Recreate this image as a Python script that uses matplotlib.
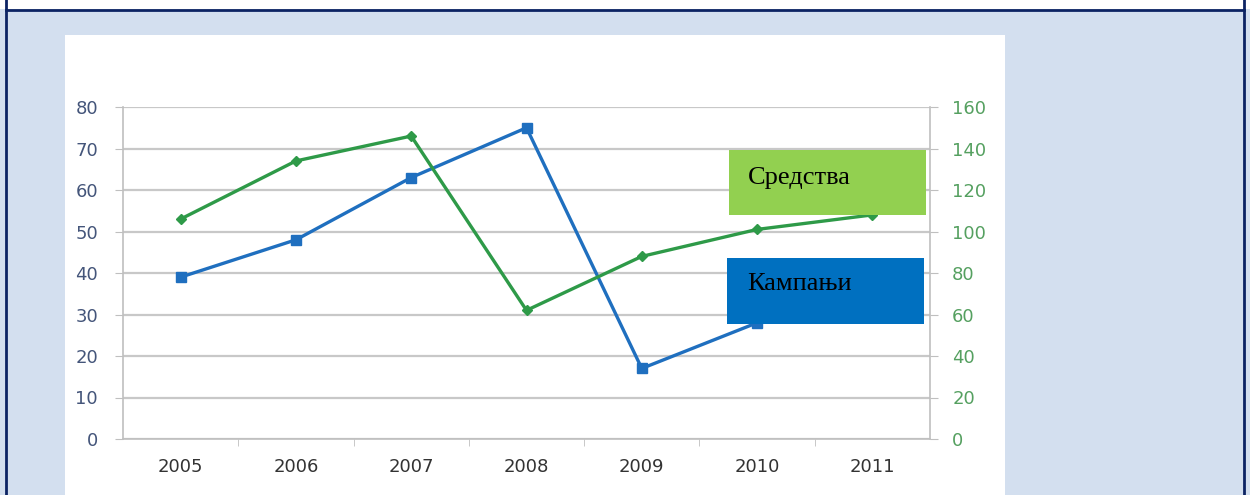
import matplotlib.pyplot as plt
from matplotlib.patches import Rectangle
from matplotlib.lines import Line2D

years = ['2005', '2006', '2007', '2008', '2009', '2010', '2011']
kampanji = [39, 48, 63, 75, 17, 28, 30]          # left axis
sredstva = [106, 134, 146, 62, 88, 101, 108]     # right axis

W, H = 1250, 495
fig = plt.figure(figsize=(W / 100, H / 100), dpi=100)
fig.patch.set_facecolor('#d3dfef')

def fx(px):
    return px / W

def fy(py):
    return 1 - py / H

# white strip and frame
fig.add_artist(Rectangle((0, fy(9)), 1, 9 / H, transform=fig.transFigure,
                         facecolor='white', edgecolor='none', zorder=0))
navy = '#0c2363'
fig.add_artist(Line2D([fx(6), fx(1244)], [fy(10), fy(10)], transform=fig.transFigure,
                      color=navy, lw=2))
fig.add_artist(Line2D([fx(6), fx(6)], [0, 1], transform=fig.transFigure, color=navy, lw=2))
fig.add_artist(Line2D([fx(1244), fx(1244)], [0, 1], transform=fig.transFigure, color=navy, lw=2))

# white chart panel
fig.add_artist(Rectangle((fx(65), 0), fx(1005 - 65), fy(35), transform=fig.transFigure,
                         facecolor='white', edgecolor='none', zorder=0))

ax = fig.add_axes([fx(123), fy(439), fx(930 - 123), (439 - 107) / H])
ax.set_facecolor('none')
ax2 = ax.twinx()

x = list(range(len(years)))
ax.plot(x, kampanji, color='#1f6fbf', lw=2.4, marker='s', ms=7.5, zorder=3)
ax2.plot(x, sredstva, color='#2e9a48', lw=2.4, marker='D', ms=5.5, zorder=3)

ax.set_xlim(-0.5, len(years) - 0.5)
ax.set_ylim(0, 80)
ax2.set_ylim(0, 160)
ax.set_yticks(range(0, 81, 10))
ax2.set_yticks(range(0, 161, 20))
ax.yaxis.grid(True, color='#c8c8c8', lw=1.6)
ax.set_axisbelow(True)

ax.set_xticks(x)
ax.set_xticklabels(years)
ax.set_xticks([i + 0.5 for i in x[:-1]], minor=True)
ax.tick_params(axis='x', which='major', length=0, pad=14, labelsize=13, labelcolor='#333333')
ax.tick_params(axis='x', which='minor', length=5, color='#bfbfbf', direction='out')
ax.tick_params(axis='y', length=6, color='#bfbfbf', labelsize=13, labelcolor='#44557a', pad=12)
ax2.tick_params(axis='y', length=6, color='#bfbfbf', labelsize=13, labelcolor='#55a060', pad=10)

for a in (ax, ax2):
    for s in ('top', 'right', 'left', 'bottom'):
        a.spines[s].set_visible(False)
ax.spines['left'].set_visible(True)
ax.spines['bottom'].set_visible(True)
ax2.spines['right'].set_visible(True)
for s in (ax.spines['left'], ax.spines['bottom'], ax2.spines['right']):
    s.set_color('#bfbfbf')
    s.set_linewidth(1.2)

# label boxes
fig.add_artist(Rectangle((fx(729), fy(215)), fx(926 - 729), 65 / H, transform=fig.transFigure,
                         facecolor='#92d050', edgecolor='none', zorder=5))
fig.text(fx(748), fy(178), 'Средства', family='Liberation Serif', fontsize=19,
         va='center', ha='left', color='black', zorder=6)
fig.add_artist(Rectangle((fx(727), fy(324)), fx(924 - 727), 66 / H, transform=fig.transFigure,
                         facecolor='#0070c0', edgecolor='none', zorder=5))
fig.text(fx(747), fy(284), 'Кампањи', family='Liberation Serif', fontsize=19,
         va='center', ha='left', color='black', zorder=6)

fig.savefig('out.png', dpi=100)
